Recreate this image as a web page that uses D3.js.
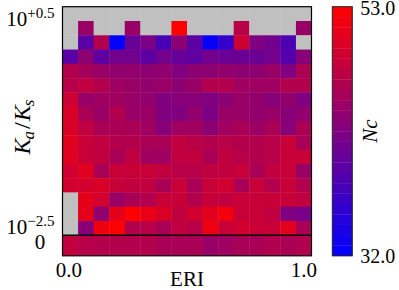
<!DOCTYPE html>
<html>
<head>
<meta charset="utf-8">
<script src="https://cdn.jsdelivr.net/npm/d3@7"></script>
<style>
    body { margin: 0; background: #fff; }
    svg text { font-family: "Liberation Serif", "DejaVu Serif", serif; fill: #000; }
</style>
</head>
<body>
<div id="chart"></div>
<script>
// ERI bin centres (columns) and log10(Ka/Ks) bin centres (rows, top to bottom)
const eriBins = [0.01, 0.08, 0.14, 0.21, 0.27, 0.34, 0.41, 0.47, 0.54, 0.61, 0.67, 0.74, 0.80, 0.87, 0.94, 1.00];
const kaksBins = [0.60, 0.39, 0.19, -0.02, -0.22, -0.43, -0.64, -0.84, -1.05, -1.26, -1.46, -1.67, -1.88, -2.08, -2.29, -2.50];

// Nc per cell, null = no data (grey)
const ncValues = [
    [null, null, null, null, null, null, null, null, null, null, null, null, null, null, null, null],
    [null, 44.6, null, null, 44.6, null, null, 53.0, null, null, null, 47.0, null, null, null, 44.6],
    [null, 39.4, 46.7, 32.0, 40.4, 42.1, 37.9, 43.6, 39.4, 32.4, 36.2, 48.8, 42.5, 41.5, 38.3, null],
    [39.4, 43.6, 39.8, 41.5, 41.5, 39.6, 41.5, 40.4, 39.8, 41.5, 40.8, 40.8, 40.8, 41.5, 38.9, 43.1],
    [46.7, 45.4, 44.6, 44.0, 44.0, 43.6, 44.0, 42.5, 43.6, 43.6, 44.0, 43.6, 43.6, 44.6, 42.5, 46.1],
    [47.1, 47.8, 46.7, 45.2, 44.6, 44.0, 44.6, 43.6, 44.6, 46.7, 46.7, 45.2, 45.2, 45.2, 46.7, 46.7],
    [48.8, 44.6, 45.2, 45.2, 44.6, 44.0, 42.5, 43.1, 43.1, 42.5, 43.6, 44.6, 44.0, 43.1, 44.0, 42.5],
    [49.9, 45.9, 44.6, 46.7, 44.6, 44.6, 42.5, 42.5, 44.0, 42.1, 44.6, 44.6, 44.0, 44.6, 43.1, 44.0],
    [49.9, 47.8, 45.9, 45.9, 45.9, 45.2, 43.1, 45.2, 45.2, 43.6, 45.2, 45.9, 44.6, 45.9, 43.1, 45.9],
    [50.5, 48.4, 47.8, 46.7, 46.7, 45.9, 45.9, 47.8, 47.1, 46.7, 47.1, 46.7, 46.7, 47.1, 48.4, 45.9],
    [50.5, 48.4, 47.8, 45.9, 47.8, 45.2, 45.2, 47.8, 47.8, 45.9, 47.8, 47.1, 46.7, 47.1, 48.4, 48.4],
    [49.2, 50.5, 45.9, 48.4, 48.4, 48.4, 47.8, 47.1, 47.1, 47.8, 47.8, 48.4, 45.9, 47.8, 48.4, 44.6],
    [49.2, 49.2, 49.9, 48.4, 47.8, 47.8, 45.9, 48.4, 45.9, 48.4, 49.2, 45.9, 48.4, 46.7, 48.4, 46.7],
    [null, 50.9, 49.2, 44.6, 45.9, 46.7, 48.4, 48.4, 46.7, 48.4, 47.8, 48.4, 48.4, 48.4, 48.4, 47.8],
    [null, 50.9, 44.0, 50.9, 53.0, 51.3, 49.9, 47.8, 49.2, 50.5, 52.0, 48.4, 48.4, 47.8, 42.5, 41.9],
    [null, 43.1, 51.7, 53.0, 46.7, 47.1, 45.9, 47.8, 47.1, 51.7, 48.4, 49.2, 48.4, 48.4, 50.5, 45.9]
];
// Ka/Ks = 0 row
const ncZero = [47.8, 47.1, 46.7, 46.7, 46.7, 46.7, 45.9, 45.9, 45.9, 44.6, 45.0, 45.9, 45.9, 46.7, 45.9, 46.7];

const eriTicks = [0.0, 1.0];
const kaksTicks = [0.5, -2.5];
const ncRange = [32.0, 53.0];

const width = 399, height = 290;
const plot = {left: 62.5, right: 311.5, top: 6.7, split: 235.3, bottom: 255.8};
const cbar = {left: 332.3, right: 352.3};
const serif = "Liberation Serif, DejaVu Serif, serif";

const svg = d3.select("#chart").append("svg")
    .attr("width", width)
    .attr("height", height)
    .attr("viewBox", [0, 0, width, height]);

const x = d3.scaleLinear().domain([-0.025, 1.035]).range([plot.left, plot.right]);
const xBand = d3.scaleBand().domain(eriBins).range([plot.left, plot.right]);
const y = d3.scaleLinear().domain([-2.6, 0.7]).range([plot.split, plot.top]);
const yBand = d3.scaleBand().domain(kaksBins).range([plot.top, plot.split]);
const color = d3.scaleLinear().domain(ncRange).range(["#0000ff", "#ff0000"]);

// flatten the grid into cells
let cells = []
ncValues.forEach((row, r) => row.forEach((v, c) => cells.push({r: kaksBins[r], c: eriBins[c], v: v})))

svg.append("g").selectAll("rect")
    .data(cells)
    .join("rect")
    .attr("x", d => xBand(d.c))
    .attr("y", d => yBand(d.r))
    .attr("width", xBand.bandwidth() + 0.4)
    .attr("height", yBand.bandwidth() + 0.4)
    .attr("fill", d => d.v == null ? "#c0c0c0" : color(d.v));

svg.append("g").selectAll("rect")
    .data(ncZero)
    .join("rect")
    .attr("x", (d, i) => xBand(eriBins[i]))
    .attr("y", plot.split)
    .attr("width", xBand.bandwidth() + 0.4)
    .attr("height", plot.bottom - plot.split)
    .attr("fill", d => color(d));

// frame + separator of the zero row
svg.append("rect")
    .attr("x", plot.left).attr("y", plot.top)
    .attr("width", plot.right - plot.left).attr("height", plot.bottom - plot.top)
    .attr("fill", "none").attr("stroke", "#000").attr("stroke-width", 1.2);
svg.append("line")
    .attr("x1", plot.left).attr("x2", plot.right)
    .attr("y1", plot.split).attr("y2", plot.split)
    .attr("stroke", "#000").attr("stroke-width", 1.4);

// x axis
const xAxis = svg.append("g")
    .attr("transform", `translate(0,${plot.bottom})`)
    .call(d3.axisBottom(x).tickValues(eriTicks).tickFormat(d3.format(".1f")).tickSize(0).tickPadding(6))
    .attr("font-family", serif)
    .attr("font-size", 21)
xAxis.select(".domain").remove()

svg.append("text")
    .attr("x", (plot.left + plot.right) / 2)
    .attr("y", 286)
    .attr("text-anchor", "middle")
    .attr("font-size", 21)
    .text("ERI");

// y axis with 10^x labels
const yAxis = svg.append("g")
    .attr("transform", `translate(${plot.left},0)`)
    .call(d3.axisLeft(y).tickValues(kaksTicks).tickSize(0).tickPadding(8))
    .attr("font-family", serif)
    .attr("font-size", 21)
yAxis.select(".domain").remove()
yAxis.selectAll(".tick text")
    .attr("dy", 5.4)
    .text(null)
    .call(t => {
        t.append("tspan").text("10")
        t.append("tspan").attr("dy", -8.5).attr("font-size", 15)
            .text(d => (d > 0 ? "+" : "\u2212") + Math.abs(d).toFixed(1))
    })

svg.append("text")
    .attr("x", 40)
    .attr("y", (plot.split + plot.bottom) / 2 + 3.6)
    .attr("text-anchor", "middle")
    .attr("font-size", 21)
    .text("0");

const yLabel = svg.append("text")
    .attr("transform", `translate(30,127) rotate(-90)`)
    .attr("text-anchor", "middle")
    .attr("font-size", 24)
    .attr("font-style", "italic");
yLabel.append("tspan").text("K");
yLabel.append("tspan").attr("font-size", 17).attr("dy", 4).attr("dx", -1).text("a");
yLabel.append("tspan").attr("dy", -4).attr("dx", 2).attr("font-style", "normal").text("/");
yLabel.append("tspan").attr("dx", 1).text("K");
yLabel.append("tspan").attr("font-size", 17).attr("dy", 4).attr("dx", -1).text("s");

// colour bar
const cy = d3.scaleLinear().domain(ncRange).range([plot.bottom, plot.top]);
const nSteps = 24
const steps = d3.range(nSteps).map(i => ncRange[0] + i * (ncRange[1] - ncRange[0]) / nSteps)
const stepH = (ncRange[1] - ncRange[0]) / nSteps

svg.append("g").selectAll("rect")
    .data(steps)
    .join("rect")
    .attr("x", cbar.left)
    .attr("y", d => cy(d + stepH))
    .attr("width", cbar.right - cbar.left)
    .attr("height", d => cy(d) - cy(d + stepH) + 0.3)
    .attr("fill", d => color(d + stepH / 2));

svg.append("rect")
    .attr("x", cbar.left).attr("y", plot.top)
    .attr("width", cbar.right - cbar.left).attr("height", plot.bottom - plot.top)
    .attr("fill", "none").attr("stroke", "#222").attr("stroke-width", 1);

const cAxis = svg.append("g")
    .attr("transform", `translate(${cbar.right},0)`)
    .call(d3.axisRight(cy).tickValues(ncRange).tickFormat(d3.format(".1f")).tickSize(0).tickPadding(8))
    .attr("font-family", serif)
    .attr("font-size", 20)
cAxis.select(".domain").remove()
cAxis.selectAll("text").attr("dy", d => d === ncRange[1] ? 8 : 6.8)

svg.append("text")
    .attr("transform", `translate(377,131) rotate(-90)`)
    .attr("text-anchor", "middle")
    .attr("font-size", 21)
    .attr("font-style", "italic")
    .text("Nc");
</script>
</body>
</html>
